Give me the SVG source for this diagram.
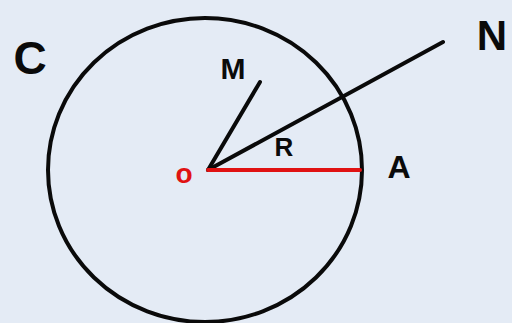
<svg xmlns="http://www.w3.org/2000/svg" width="512" height="323" viewBox="0 0 512 323">
  <style>
    .ln { stroke: #0a0a0a; stroke-width: 4; stroke-linecap: round; fill: none; }
    .red { stroke: #e01212; stroke-width: 4; stroke-linecap: round; fill: none; }
    .lbl { font-family: "Liberation Sans", Arial, sans-serif; font-weight: bold; fill: #0a0a0a; text-anchor: middle; }
  </style>
  <rect width="512" height="323" fill="#e4ebf5"/>
  <g id="circle-C">
    <ellipse class="ln" cx="205" cy="170" rx="157" ry="152"/>
    <text class="lbl" x="30" y="74" font-size="46">C</text>
  </g>
  <g id="point-O">
    <text x="184" y="183" font-family="Liberation Sans, Arial, sans-serif" font-weight="bold" font-size="28" fill="#e01212" text-anchor="middle">o</text>
  </g>
  <g id="point-M">
    <text class="lbl" x="233" y="79" font-size="30">M</text>
  </g>
  <g id="point-N">
    <text class="lbl" x="492" y="50" font-size="42">N</text>
  </g>
  <g id="point-A">
    <text class="lbl" x="399" y="178" font-size="32">A</text>
  </g>
  <g id="label-R">
    <text class="lbl" x="284" y="156" font-size="26">R</text>
  </g>
  <g id="connectors">
    <line class="ln" x1="208" y1="170" x2="260" y2="82"/>
    <line class="ln" x1="208" y1="170" x2="443" y2="42"/>
    <line class="red" x1="208" y1="170" x2="360" y2="170"/>
  </g>
</svg>
